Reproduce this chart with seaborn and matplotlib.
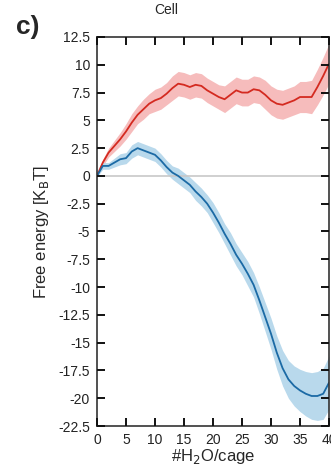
import numpy as np
import pandas as pd
import matplotlib
matplotlib.use("Agg")
import matplotlib.pyplot as plt
import seaborn as sns

# water molecules per cage
n_water = list(range(0, 41))

# free energy, upper branch (red) and its half-width
red_fe = [0.0, 1.2, 2.1, 2.7, 3.3, 4.0, 4.8, 5.5, 6.0, 6.5, 6.8, 7.0, 7.4, 7.9, 8.3,
          8.2, 8.0, 8.2, 8.1, 7.7, 7.4, 7.1, 6.9, 7.3, 7.7, 7.5, 7.5, 7.8, 7.7, 7.3,
          6.8, 6.5, 6.4, 6.6, 6.8, 7.1, 7.1, 7.1, 8.0, 9.0, 10.1]
red_err = [0.1, 0.3, 0.4, 0.5, 0.6, 0.7, 0.8, 0.8, 0.9, 0.9, 1.0, 1.0, 1.0, 1.1, 1.1,
           1.1, 1.1, 1.1, 1.1, 1.1, 1.1, 1.1, 1.2, 1.2, 1.2, 1.2, 1.2, 1.2, 1.2, 1.3,
           1.3, 1.3, 1.3, 1.3, 1.3, 1.4, 1.4, 1.5, 1.6, 1.7, 1.8]

# free energy, lower branch (blue) and its half-width
blue_fe = [0.0, 0.9, 0.9, 1.2, 1.5, 1.6, 2.2, 2.5, 2.3, 2.1, 1.9, 1.4, 0.8, 0.3, 0.0,
           -0.4, -0.8, -1.4, -1.9, -2.5, -3.3, -4.2, -5.2, -6.1, -7.1, -7.9, -8.8, -9.8,
           -11.2, -12.7, -14.2, -15.9, -17.3, -18.3, -18.9, -19.3, -19.6, -19.8, -19.8,
           -19.6, -18.6]
blue_err = [0.1, 0.3, 0.3, 0.4, 0.5, 0.5, 0.6, 0.6, 0.6, 0.6, 0.6, 0.6, 0.6, 0.6, 0.7,
            0.7, 0.7, 0.8, 0.8, 0.8, 0.9, 0.9, 0.9, 1.0, 1.0, 1.0, 1.1, 1.1, 1.2, 1.3,
            1.4, 1.5, 1.6, 1.7, 1.8, 1.9, 2.0, 2.1, 2.2, 2.3, 2.4]

y_ticks = [12.5, 10, 7.5, 5, 2.5, 0, -2.5, -5, -7.5, -10, -12.5, -15, -17.5, -20, -22.5]
x_ticks = [0, 5, 10, 15, 20, 25, 30, 35, 40]

df = pd.DataFrame({
    "n": n_water * 2,
    "fe": red_fe + blue_fe,
    "err": red_err + blue_err,
    "branch": ["red"] * len(n_water) + ["blue"] * len(n_water),
})

sns.set_style("ticks", {
    "axes.axisbelow": False,
    "xtick.direction": "in", "ytick.direction": "in",
    "xtick.top": True, "ytick.right": True,
    "xtick.color": "#111111", "ytick.color": "#111111",
})
plt.rcParams["font.family"] = ["Liberation Sans", "DejaVu Sans"]
plt.rcParams["xtick.major.size"] = 6
plt.rcParams["ytick.major.size"] = 6
plt.rcParams["xtick.major.width"] = 1.4
plt.rcParams["ytick.major.width"] = 1.4

fig = plt.figure(figsize=(3.31, 4.65), dpi=100)
ax = fig.add_axes([97 / 331, 39 / 465, 232 / 331, 389 / 465])

line_colors = {"red": "#d42a20", "blue": "#1b6aa5"}
band_colors = {"red": "#f6bcbc", "blue": "#b9d9ec"}

ax.axhline(0, color="#c8c8c8", lw=1.2)

for key in ["red", "blue"]:
    sub = df[df["branch"] == key]
    ax.fill_between(sub["n"], sub["fe"] - sub["err"], sub["fe"] + sub["err"],
                    color=band_colors[key], lw=0)

sns.lineplot(data=df, x="n", y="fe", hue="branch", palette=line_colors,
             linewidth=1.3, legend=False, ax=ax)

ax.set_xlim(0, 40)
ax.set_ylim(-22.5, 12.5)
ax.set_yticks(y_ticks)
ax.set_yticklabels([f"{t:g}" for t in y_ticks])
ax.set_xticks(x_ticks)
ax.set_xticklabels([str(t) for t in x_ticks])
ax.set_axisbelow(False)

# inward ticks on all four sides
ax.tick_params(axis="both", direction="in", length=6, width=1.4, color="#111111",
               top=True, right=True)
ax.tick_params(axis="both", labelsize=10, pad=5, labelcolor="#222222")
for s in ax.spines.values():
    s.set_linewidth(1.2)
    s.set_color("#333333")

ax.set_xlabel("#H$_2$O/cage", fontsize=12, labelpad=0)
ax.set_ylabel("Free energy [K$_\\mathrm{B}$T]", fontsize=12, labelpad=5)

fig.text(166 / 331, 1 - 10 / 465, "Cell", ha="center", va="center", fontsize=10)
fig.text(16 / 331, 1 - 27 / 465, "c)", ha="left", va="center", fontsize=19,
         fontweight="bold")

fig.savefig("out.png", dpi=100)
